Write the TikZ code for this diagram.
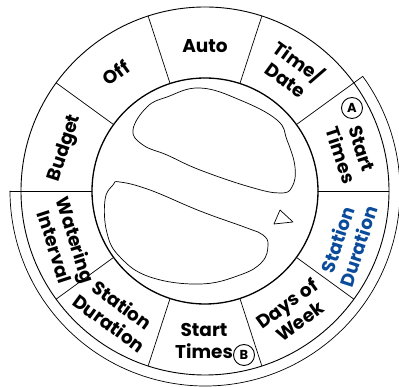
\documentclass[tikz,border=0pt]{standalone}
\usepackage{fontspec}
\setsansfont{Poppins}
\definecolor{dialblue}{RGB}{10,75,155}
\tikzset{
  dial label/.style={font=\sffamily\bfseries\fontsize{18.5}{22}\selectfont,align=center,inner sep=0pt},
  letter ring/.style={draw,circle,line width=0.9pt,inner sep=0pt,minimum size=21pt,
    font=\sffamily\bfseries\fontsize{13}{13}\selectfont},
  divider/.style={line width=0.7pt},
}
\begin{document}
\begin{tikzpicture}[x=1pt,y=1pt,line cap=round,line join=round]
  \useasboundingbox (-205,-196) rectangle (194,191);
  % rings of the dial
  \draw[line width=0.9pt] (0,0) circle (184);
  \draw[line width=1.3pt] (0,0) circle (113);
  \draw[divider] (36:195) arc (36:-180:195);
  \foreach \a in {0,72,108,144,216,252,288,324}
    \draw[divider] (\a:113) -- (\a:184);
  \draw[divider] (36:113) -- (36:195);
  \draw[divider] (180:113) -- (180:195);

  % knob
  \draw[divider] plot[smooth cycle,tension=0.7] coordinates {
    (-72,61) (-62,46) (-38,36) (-5,21) (45,4) (75,-2) (87,4) (90,24)
    (82,51) (72,71) (35,91) (-5,103) (-38,94) (-58,84)};
  \draw[divider] plot[smooth cycle,tension=0.7] coordinates {
    (-92,6) (-85,9) (-55,1) (-5,-20) (42,-37) (58,-44) (63,-54) (57,-71)
    (35,-84) (-5,-93) (-55,-86) (-85,-66) (-98,-42) (-100,-9)};
  \draw[divider] (69,-33) -- (88,-31) -- (75,-19) -- cycle;

  % settings
  \node[dial label] (auto) at (90:145) {Auto};
  \node[dial label,rotate=-36] (timedate) at (54:150) {Time/\\Date};
  \node[dial label,rotate=-72] (startA) at (146,39) {Start\\Times};
  \node[letter ring] (ringA) at (147,83) {A};
  \node[dial label,rotate=72,text=dialblue] (durationA) at (-20:152) {Station\\Duration};
  \node[dial label,rotate=36] (days) at (-54:150) {Days of\\Week};
  \node[dial label] (startB) at (-1,-150) {Start\\Times};
  \node[letter ring] (ringB) at (39,-164) {B};
  \node[dial label,rotate=-36] (durationB) at (234:152) {Station\\Duration};
  \node[dial label,rotate=-72] (watering) at (200.5:149) {Watering\\Interval};
  \node[dial label,rotate=72] (budget) at (163:146) {Budget};
  \node[dial label,rotate=36] (off) at (127:148) {Off};
\end{tikzpicture}
\end{document}
